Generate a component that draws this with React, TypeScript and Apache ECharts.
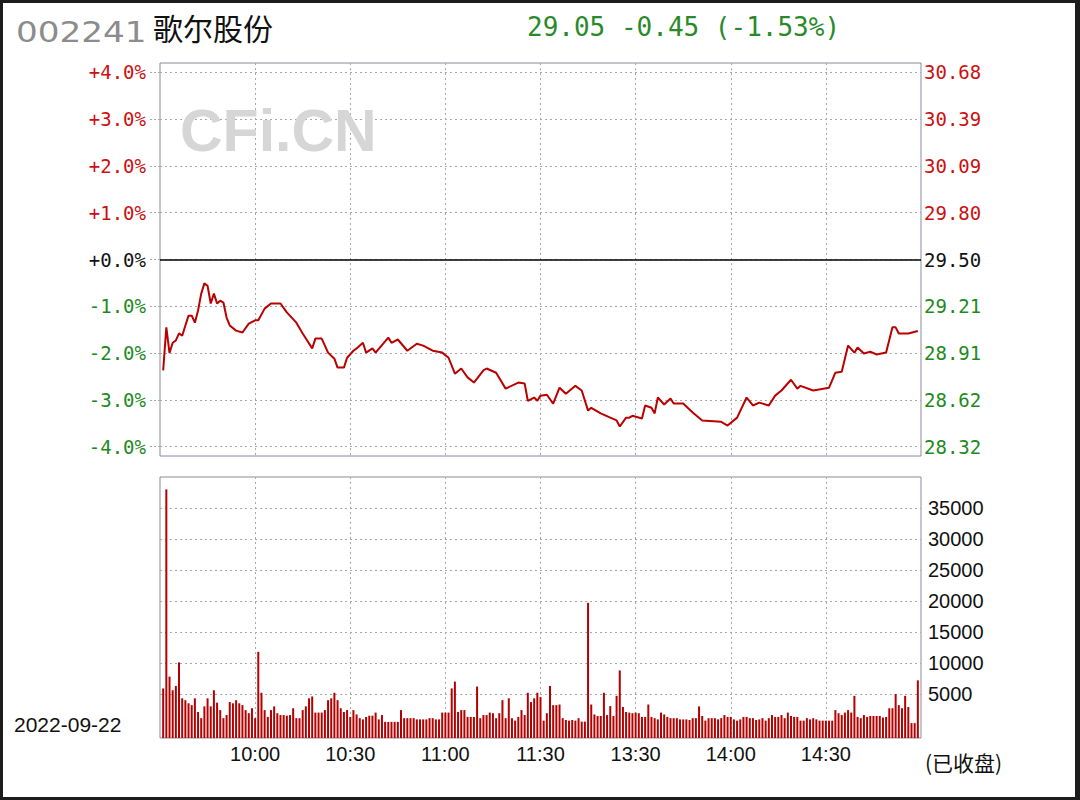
import React, { useEffect, useRef } from "react";
import * as echarts from "echarts";

// ---------- data ----------
const stockCode = "002241";
const stockName = "歌尔股份";
const quoteText = "29.05 -0.45 (-1.53%)";
const tradeDate = "2022-09-22";
const statusText = "(已收盘)";

// x axis: minutes since 9:30 (trading minutes), labels every 30 minutes
const timeLabels = ["", "10:00", "10:30", "11:00", "11:30", "13:30", "14:00", "14:30", ""];
const pctTicks = [4, 3, 2, 1, 0, -1, -2, -3, -4];
const priceTickLabels = ["30.68", "30.39", "30.09", "29.80", "29.50", "29.21", "28.91", "28.62", "28.32"];
const volTicks = [5000, 10000, 15000, 20000, 25000, 30000, 35000];

// [trading minute, % change vs previous close 29.50]
const pricePoints = [
  [1, -2.37], [2, -1.45], [3, -2.0], [4, -1.78], [5, -1.73], [6, -1.58], [7, -1.63], [8, -1.41],
  [9, -1.2], [10, -1.2], [11, -1.35], [12, -1.09], [13, -0.73], [14, -0.51], [15, -0.56], [16, -0.94],
  [17, -0.73], [18, -0.94], [19, -0.88], [20, -0.92], [21, -1.24], [22, -1.41], [24, -1.52], [26, -1.56],
  [28, -1.37], [30, -1.3], [31, -1.3], [33, -1.05], [35, -0.94], [38, -0.94], [40, -1.13], [43, -1.35],
  [45, -1.58], [48, -1.9], [49, -1.69], [51, -1.69], [53, -1.99], [55, -2.12], [56, -2.31], [58, -2.31],
  [59, -2.1], [61, -1.95], [62, -1.9], [64, -1.78], [65, -1.99], [67, -1.9], [68, -1.99], [72, -1.67],
  [73, -1.78], [75, -1.71], [78, -1.95], [81, -1.8], [83, -1.84], [86, -1.95], [89, -1.99], [91, -2.1],
  [93, -2.44], [95, -2.33], [97, -2.52], [99, -2.63], [102, -2.37], [103, -2.33], [106, -2.42], [109, -2.76],
  [113, -2.63], [115, -2.65], [116, -3.02], [118, -2.95], [119, -3.02], [120, -2.91], [122, -2.89], [124, -3.08],
  [126, -2.74], [128, -2.87], [131, -2.7], [133, -2.8], [135, -3.23], [136, -3.17], [139, -3.29], [142, -3.38],
  [144, -3.44], [145, -3.57], [147, -3.38], [148, -3.38], [149, -3.34], [152, -3.4], [153, -3.12], [155, -3.17],
  [156, -3.29], [157, -2.95], [159, -3.1], [161, -2.97], [162, -3.08], [165, -3.08], [168, -3.27], [171, -3.44],
  [177, -3.47], [179, -3.55], [182, -3.38], [185, -2.95], [187, -3.12], [189, -3.06], [192, -3.12], [194, -2.91],
  [196, -2.8], [199, -2.57], [201, -2.76], [202, -2.7], [206, -2.8], [211, -2.74], [213, -2.42], [215, -2.4],
  [217, -1.84], [219, -1.99], [220, -1.88], [222, -2.01], [224, -1.97], [226, -2.03], [229, -1.99], [231, -1.45],
  [232, -1.45], [233, -1.58], [236, -1.58], [239, -1.53],
];

// volume per trading minute, minute 1..239
const volumes = [
  5900, 38000, 7800, 5600, 6300, 10100, 4300, 4000, 3500, 3200,
  4300, 2100, 1100, 3000, 4300, 3000, 5600, 3600, 2400, 1100,
  1600, 3700, 3500, 4000, 3500, 3200, 2400, 1900, 2700, 1100,
  11800, 5200, 2400, 1300, 2400, 3000, 1900, 1600, 1600, 1500,
  1600, 2700, 1100, 1100, 2400, 3000, 4300, 4600, 2000, 2000,
  2000, 2400, 4000, 4300, 5200, 4000, 2700, 2100, 2400, 1300,
  2400, 1700, 1100, 900, 1300, 1500, 1500, 2000, 900, 1600,
  500, 500, 500, 500, 500, 2400, 1100, 1100, 1100, 1100,
  900, 900, 900, 900, 1100, 1100, 900, 900, 2000, 2000,
  2000, 5900, 7000, 2100, 2400, 2400, 1300, 1300, 1300, 6200,
  1100, 1600, 1600, 2000, 1900, 1100, 1900, 4000, 1100, 4300,
  1100, 700, 1300, 2400, 1600, 5200, 3700, 4300, 5200, 4500,
  700, 1900, 6300, 3200, 3200, 3300, 1100, 800, 700, 800,
  700, 1100, 540, 540, 19700, 3300, 1700, 1450, 1450, 5200,
  1600, 3050, 1450, 4700, 8800, 2900, 2100, 2000, 1900, 2000,
  1900, 1300, 1300, 3300, 1300, 1100, 900, 2000, 1700, 1300,
  1100, 1100, 1100, 900, 900, 900, 800, 1100, 1100, 3000,
  1450, 700, 1100, 1100, 1100, 900, 1100, 1600, 1300, 1300,
  900, 700, 900, 1300, 1300, 1100, 1100, 800, 900, 1100,
  700, 1100, 1600, 1300, 1300, 1600, 1100, 2000, 1450, 1300,
  1300, 700, 700, 1100, 900, 1100, 900, 700, 700, 700,
  700, 700, 2400, 1900, 1600, 2000, 2400, 2000, 4700, 1300,
  1100, 1600, 1300, 1450, 1450, 1450, 1450, 1200, 1300, 2700,
  2700, 5000, 3200, 2700, 4700, 2900, 300, 300, 7200,
];

// ---------- styles ----------
const RED = "#cc1010";
const GREEN = "#1e8a1e";
const LINE_RED = "#bb0000";
const BAR_RED = "#b30000";
const GRID_LINE = { type: [2, 3] as any, color: "#a8a8a8", width: 1 };
const BORDER = "#8a8a9c";

const signColor = (v: any) => {
  const n = Number(v);
  if (n > 1e-9) return RED;
  if (n < -1e-9) return GREEN;
  return "#111";
};

export default function App() {
  const ref = useRef<HTMLDivElement>(null);

  useEffect(() => {
    const chart = echarts.init(ref.current!, null, { renderer: "svg" });

    const option: any = {
      animation: false,
      backgroundColor: "#1c1c1c",
      graphic: [
        {
          type: "rect",
          z: -100,
          shape: { x: 3, y: 3, width: 1072, height: 794 },
          style: { fill: "#ffffff" },
        },
        {
          type: "text",
          x: 180,
          y: 131,
          z: 1,
          style: {
            text: "CFi.CN",
            fill: "#d6d6d6",
            font: 'bold 59px "Liberation Sans"',
            textVerticalAlign: "middle",
          },
        },
        {
          type: "text",
          x: 16,
          y: 32,
          scaleX: 1.18,
          style: {
            text: stockCode,
            fill: "#8c8c8c",
            font: '29px "DejaVu Sans"',
            textVerticalAlign: "middle",
          },
        },
        {
          type: "text",
          x: 153,
          y: 27,
          style: {
            text: stockName,
            fill: "#111",
            font: '30px "Noto Sans CJK SC"',
            textVerticalAlign: "middle",
          },
        },
        {
          type: "text",
          x: 527,
          y: 27,
          style: {
            text: quoteText,
            fill: "#2a8a2a",
            font: '26px "DejaVu Sans Mono"',
            textVerticalAlign: "middle",
          },
        },
        {
          type: "text",
          x: 14,
          y: 724,
          style: {
            text: tradeDate,
            fill: "#111",
            font: '21px "Liberation Sans"',
            textVerticalAlign: "middle",
          },
        },
        {
          type: "text",
          x: 925,
          y: 762,
          style: {
            text: statusText,
            fill: "#111",
            font: '21px "Noto Sans CJK SC"',
            textVerticalAlign: "middle",
          },
        },
      ],
      grid: [
        { left: 160, top: 63, width: 761, height: 393, show: true, borderColor: BORDER, borderWidth: 1, backgroundColor: "transparent" },
        { left: 160, top: 477, width: 761, height: 261, show: true, borderColor: BORDER, borderWidth: 1, backgroundColor: "transparent" },
      ],
      xAxis: [
        {
          gridIndex: 0,
          type: "value",
          min: 0,
          max: 240,
          interval: 30,
          axisLabel: { show: false },
          axisLine: { show: false },
          axisTick: { show: false },
          splitLine: { show: true, lineStyle: GRID_LINE, showMinLine: false, showMaxLine: false },
        },
        {
          gridIndex: 1,
          type: "value",
          min: 0,
          max: 240,
          interval: 30,
          axisLabel: {
            show: true,
            formatter: (v: number) => timeLabels[Math.round(v / 30)] || "",
            color: "#111",
            fontSize: 20,
            fontFamily: "Liberation Sans",
            margin: 6,
          },
          axisLine: { show: false },
          axisTick: { show: false },
          splitLine: { show: true, lineStyle: GRID_LINE, showMinLine: false, showMaxLine: false },
        },
      ],
      yAxis: [
        {
          gridIndex: 0,
          type: "value",
          position: "left",
          min: -4.2,
          max: 4.2,
          axisLine: { show: false },
          axisTick: { show: true, customValues: pctTicks, length: 10, lineStyle: { type: [2, 2], color: "#a8a8a8" } },
          axisLabel: {
            customValues: pctTicks,
            formatter: (v: number) => (v >= 0 ? "+" : "") + v.toFixed(1) + "%",
            color: signColor,
            fontSize: 19,
            fontFamily: "DejaVu Sans Mono",
            margin: 14,
          },
          splitLine: { show: true, lineStyle: GRID_LINE },
        },
        {
          gridIndex: 0,
          type: "value",
          position: "right",
          min: -4.2,
          max: 4.2,
          axisLine: { show: false },
          axisTick: { show: false, customValues: pctTicks },
          axisLabel: {
            customValues: pctTicks,
            formatter: (v: number) => {
              const i = pctTicks.findIndex((t) => Math.abs(t - v) < 1e-6);
              return i >= 0 ? priceTickLabels[i] : "";
            },
            color: signColor,
            fontSize: 19,
            fontFamily: "DejaVu Sans Mono",
            margin: 3,
          },
          splitLine: { show: false },
        },
        {
          gridIndex: 1,
          type: "value",
          position: "right",
          min: -2100,
          max: 40000,
          axisLine: { show: false },
          axisTick: { show: false, customValues: volTicks },
          axisLabel: {
            customValues: volTicks,
            formatter: (v: number) => String(v),
            color: "#111",
            fontSize: 20,
            fontFamily: "Liberation Sans",
            margin: 7,
          },
          splitLine: { show: true, lineStyle: GRID_LINE },
        },
      ],
      series: [
        {
          type: "line",
          xAxisIndex: 0,
          yAxisIndex: 0,
          data: pricePoints,
          showSymbol: false,
          symbol: "none",
          lineStyle: { color: LINE_RED, width: 2 },
          z: 3,
          markLine: {
            silent: true,
            symbol: ["none", "none"],
            label: { show: false },
            lineStyle: { color: "#000", type: "solid", width: 1.5 },
            data: [{ yAxis: 0 }],
          },
        },
        {
          type: "custom",
          xAxisIndex: 1,
          yAxisIndex: 2,
          data: volumes.map((v, i) => [i + 1, v]),
          encode: { x: 0, y: 1 },
          renderItem: (params: any, api: any) => {
            const x = api.value(0);
            const v = api.value(1);
            const top = api.coord([x, v]);
            const cs = params.coordSys;
            const bottom = cs.y + cs.height;
            return {
              type: "rect",
              shape: { x: top[0] - 1, y: top[1], width: 2, height: bottom - top[1] },
              style: { fill: BAR_RED },
            };
          },
        },
      ],
    };

    chart.setOption(option);
    return () => chart.dispose();
  }, []);

  return (
    <div
      ref={ref}
      style={{ position: "absolute", left: 0, top: 0, width: 1080, height: 800 }}
    />
  );
}
